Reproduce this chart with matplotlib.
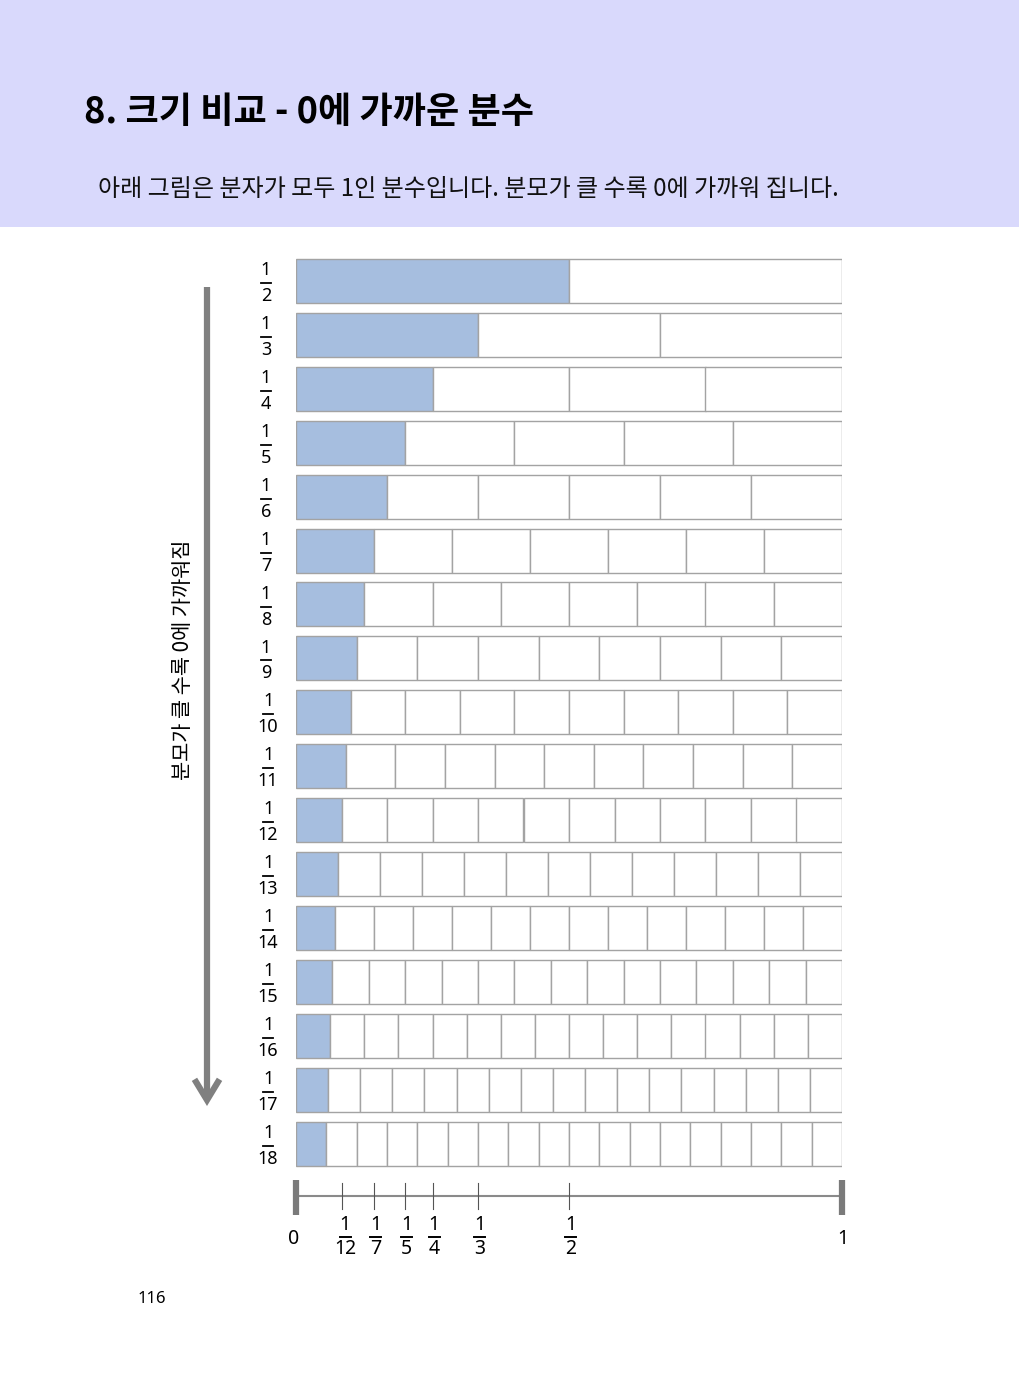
import matplotlib
matplotlib.use("Agg")
import matplotlib.pyplot as plt
from matplotlib.patches import Rectangle

plt.rcParams['font.family'] = ['Noto Sans CJK KR', 'DejaVu Sans']
DIGITS = ['Noto Sans', 'DejaVu Sans']

# unit fractions 1/2 .. 1/18, one row each
denominators = [2, 3, 4, 5, 6, 7, 8, 9, 10, 11, 12, 13, 14, 15, 16, 17, 18]
numerator = 1
# fractions marked on the number line underneath
line_marks = [12, 7, 5, 4, 3, 2]

title = "8. 크기 비교 - 0에 가까운 분수"
subtitle = "아래 그림은 분자가 모두 1인 분수입니다. 분모가 클 수록 0에 가까워 집니다."
side_label = "분모가 클 수록 0에 가까워짐"
page_no = "116"

W, H = 1020, 1383
fig = plt.figure(figsize=(W / 100, H / 100), dpi=100)
fig.patch.set_facecolor("white")

# header band
fig.add_artist(Rectangle((0, 1 - 227 / H), 1, 227 / H, transform=fig.transFigure,
                         facecolor="#d9d9fc", edgecolor="none", zorder=0))
fig.text(84 / W, 1 - 112 / H, title, fontsize=26, fontweight="bold", va="center", ha="left")
fig.text(98 / W, 1 - 189 / H, subtitle, fontsize=17.3, va="center", ha="left", color="#111111")
fig.text(152 / W, 1 - 1299 / H, page_no, fontsize=12, va="center", ha="center", family=DIGITS)

# main axes: x = fraction of a whole, y = row index
row_px = (1143.5 - 281) / 16
top_px, bot_px = 240, 1280
ax = fig.add_axes([296 / W, (H - bot_px) / H, 546 / W, (bot_px - top_px) / H])
ax.set_xlim(0, 1)
ax.set_ylim((bot_px - 281) / row_px, -(281 - top_px) / row_px)
ax.axis("off")

fill_col = "#a6bedf"
edge_col = "#a3a3a3"
bar_h = 44 / row_px


def py(p):
    # pixel row on the page -> data y
    return (p - 281) / row_px


for i, d in enumerate(denominators):
    lefts = [k / d for k in range(d)]
    widths = [1 / d] * d
    colors = [fill_col if k < numerator else "white" for k in range(d)]
    ax.barh([i] * d, widths, left=lefts, height=bar_h, color=colors,
            edgecolor=edge_col, linewidth=1.0)
    # fraction label on the left
    lx = -0.055 if d < 10 else -0.051
    ax.text(lx, i - 0.2, str(numerator), fontsize=13, ha="center", va="center",
            clip_on=False, family=DIGITS)
    ax.plot([lx - 0.009, lx + 0.009], [i + 0.04, i + 0.04], color="black", lw=1.3, clip_on=False)
    ax.text(lx, i + 0.28, str(d), fontsize=13, ha="center", va="center",
            clip_on=False, family=DIGITS)

# arrow and side label
ax.plot([-0.163, -0.163], [py(287), py(1098)], color="#808080", lw=4.5, clip_on=False,
        solid_capstyle="butt")
ax.plot([-0.183, -0.163, -0.143], [py(1082), py(1100), py(1082)],
        color="#808080", lw=4.5, clip_on=False, solid_joinstyle="miter")
ax.text(-0.207, py(660), side_label, rotation=90, fontsize=15,
        ha="center", va="center", clip_on=False)

# number line
ny = py(1196)
ax.plot([0, 1], [ny, ny], color="#8a8a8a", lw=1.5, clip_on=False)
for xe in [0, 1]:
    ax.plot([xe, xe], [py(1180), py(1215)], color="#7a7a7a",
            lw=4.5, clip_on=False, solid_capstyle="butt")
ax.text(-0.005, py(1239), "0", fontsize=14, ha="center", va="center", family=DIGITS)
ax.text(1.002, py(1239), "1", fontsize=14, ha="center", va="center", family=DIGITS)
for d in line_marks:
    x = 1 / d
    ax.plot([x, x], [py(1183), py(1209)], color="#555555", lw=0.8)
    tx = x + (0.007 if d >= 10 else 0.003)
    ax.text(tx, py(1225), str(numerator), fontsize=14, ha="center", va="center", family=DIGITS)
    ax.plot([tx - 0.01, tx + 0.01], [py(1237)] * 2, color="black", lw=1.4)
    ax.text(tx, py(1249), str(d), fontsize=14, ha="center", va="center", family=DIGITS)

fig.savefig("out.png", dpi=100)
